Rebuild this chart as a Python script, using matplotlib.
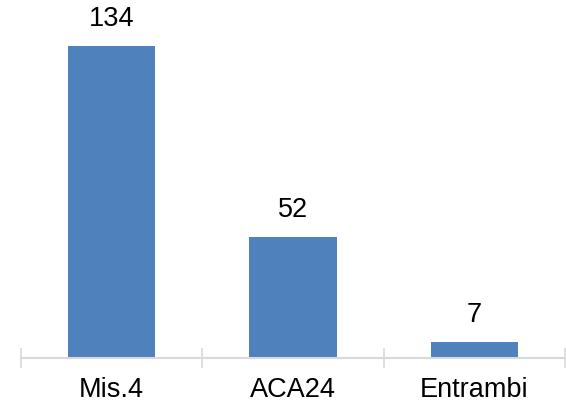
import matplotlib.pyplot as plt

categories = ["Mis.4", "ACA24", "Entrambi"]
values = [134, 52, 7]

plt.rcParams["font.family"] = ["Liberation Sans", "DejaVu Sans"]

fig = plt.figure(figsize=(5.66, 4.09), dpi=100)
ax = fig.add_axes([21 / 566, 1 - 358 / 409, 544 / 566, 349 / 409])

x = range(len(categories))
bars = ax.bar(x, values, width=0.48, color="#4F81BD")

for xi, v in zip(x, values):
    ax.annotate(str(v), (xi, v), xytext=(0, 10), textcoords="offset points",
                ha="center", va="bottom", fontsize=19.5, color="#000000")

ax.set_xlim(-0.5, 2.5)
ax.set_ylim(0, 150)
ax.set_xticks([-0.5, 0.5, 1.5, 2.5])
ax.set_xticklabels([])
ax.set_xticks(list(x), minor=True)
ax.set_xticklabels(categories, minor=True, fontsize=19.5)
ax.tick_params(axis="x", which="major", direction="inout", length=14, width=1.2, color="#D9D9D9")
ax.tick_params(axis="x", which="minor", length=0, pad=14)
ax.set_yticks([])
for s in ["top", "right", "left"]:
    ax.spines[s].set_visible(False)
ax.spines["bottom"].set_color("#D9D9D9")
ax.spines["bottom"].set_linewidth(1.5)

plt.savefig("out.png", dpi=100)
